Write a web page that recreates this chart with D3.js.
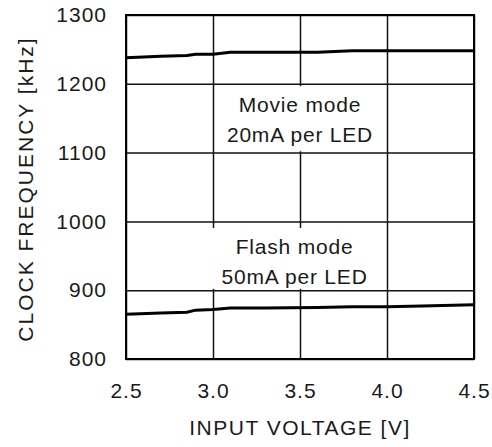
<html>
  <head>
    <meta charset="UTF-8">
    <script src="https://d3js.org/d3.v7.min.js"></script>
    <style>
      body {
        margin: 0;
        background: #fff;
        font-family: "Liberation Sans", Arial, Helvetica, sans-serif;
      }

      text {
        fill: #1a1a1a;
      }

      .tick text {
        font-size: 21px;
        letter-spacing: 1px;
      }

      .title {
        font-size: 21px;
      }

      .note {
        font-size: 21px;
        letter-spacing: 0.8px;
      }
    </style>
  </head>
  <body>
    <svg width="492" height="447"></svg>
    <script>
      // input voltage [V] vs clock frequency [kHz]
      const voltage = [2.5, 2.7, 2.85, 2.9, 3.0, 3.1, 3.3, 3.6, 3.8, 4.0, 4.2, 4.5];
      const movieMode = [1238, 1240, 1241, 1243, 1243, 1246, 1246, 1246, 1248, 1248, 1248, 1248];
      const flashMode = [865, 867, 868, 871, 872, 874, 874, 875, 876, 876, 877, 879];

      const xTicks = [2.5, 3.0, 3.5, 4.0, 4.5];
      const yTicks = [800, 900, 1000, 1100, 1200, 1300];

      // label boxes, in data units
      const notes = [
        {lines: ["Movie mode", "20mA per LED"], x0: 3.011, x1: 3.989, y0: 1196.5, y1: 1102},
        {lines: ["Flash mode", "50mA per LED"], x0: 2.948, x1: 3.989, y0: 990.5, y1: 902}
      ];

      const svg = d3.select("svg");
      const plot = {left: 126, right: 474, top: 15, bottom: 359};

      const x = d3.scaleLinear().domain([2.5, 4.5]).range([plot.left, plot.right]);
      const y = d3.scaleLinear().domain([800, 1300]).range([plot.bottom, plot.top]);

      // grid
      svg.append("g")
        .attr("transform", `translate(0, ${plot.bottom})`)
        .call(d3.axisBottom(x).tickValues(xTicks).tickFormat(d3.format(".1f"))
          .tickSize(-(plot.bottom - plot.top)).tickPadding(24))
        .call((g) => g.select(".domain").remove())
        .call((g) => g.selectAll(".tick line").attr("stroke", "#111").attr("stroke-width", 1.5))
        .call((g) => g.selectAll(".tick text").attr("font-family", null).attr("font-size", null));

      svg.append("g")
        .attr("transform", `translate(${plot.left}, 0)`)
        .call(d3.axisLeft(y).tickValues(yTicks).tickFormat(d3.format("d"))
          .tickSize(-(plot.right - plot.left)).tickPadding(19))
        .call((g) => g.select(".domain").remove())
        .call((g) => g.selectAll(".tick line").attr("stroke", "#111").attr("stroke-width", 1.5))
        .call((g) => g.selectAll(".tick text").attr("font-family", null).attr("font-size", null));

      // annotation boxes hide the grid behind them
      const note = svg.selectAll("g.note")
        .data(notes)
        .join("g")
          .attr("class", "note");

      note.append("rect")
        .attr("x", (d) => x(d.x0))
        .attr("y", (d) => y(d.y0))
        .attr("width", (d) => x(d.x1) - x(d.x0))
        .attr("height", (d) => y(d.y1) - y(d.y0))
        .attr("fill", "#fff");

      note.each(function (d) {
        const cx = (x(d.x0) + x(d.x1)) / 2;
        const y0 = y(d.y0);
        d3.select(this).selectAll("text")
          .data(d.lines)
          .join("text")
            .attr("x", cx)
            .attr("y", (t, i) => y0 + 26 + i * 30)
            .attr("text-anchor", "middle")
            .text((t) => t);
      });

      const line = d3.line()
        .x((d, i) => x(voltage[i]))
        .y((d) => y(d));

      svg.selectAll("path.series")
        .data([movieMode, flashMode])
        .join("path")
          .attr("class", "series")
          .attr("d", line)
          .attr("fill", "none")
          .attr("stroke", "#000")
          .attr("stroke-width", 3);

      // frame
      svg.append("rect")
        .attr("x", plot.left)
        .attr("y", plot.top)
        .attr("width", plot.right - plot.left)
        .attr("height", plot.bottom - plot.top)
        .attr("fill", "none")
        .attr("stroke", "#000")
        .attr("stroke-width", 2);

      svg.append("text")
        .attr("class", "title")
        .attr("x", (plot.left + plot.right) / 2)
        .attr("y", 435)
        .attr("text-anchor", "middle")
        .style("letter-spacing", "1.5px")
        .text("INPUT VOLTAGE [V]");

      svg.append("text")
        .attr("class", "title")
        .attr("transform", `translate(33, ${(plot.top + plot.bottom) / 2 + 2}) rotate(-90)`)
        .attr("text-anchor", "middle")
        .style("letter-spacing", "2px")
        .text("CLOCK FREQUENCY [kHz]");
    </script>
  </body>
</html>
